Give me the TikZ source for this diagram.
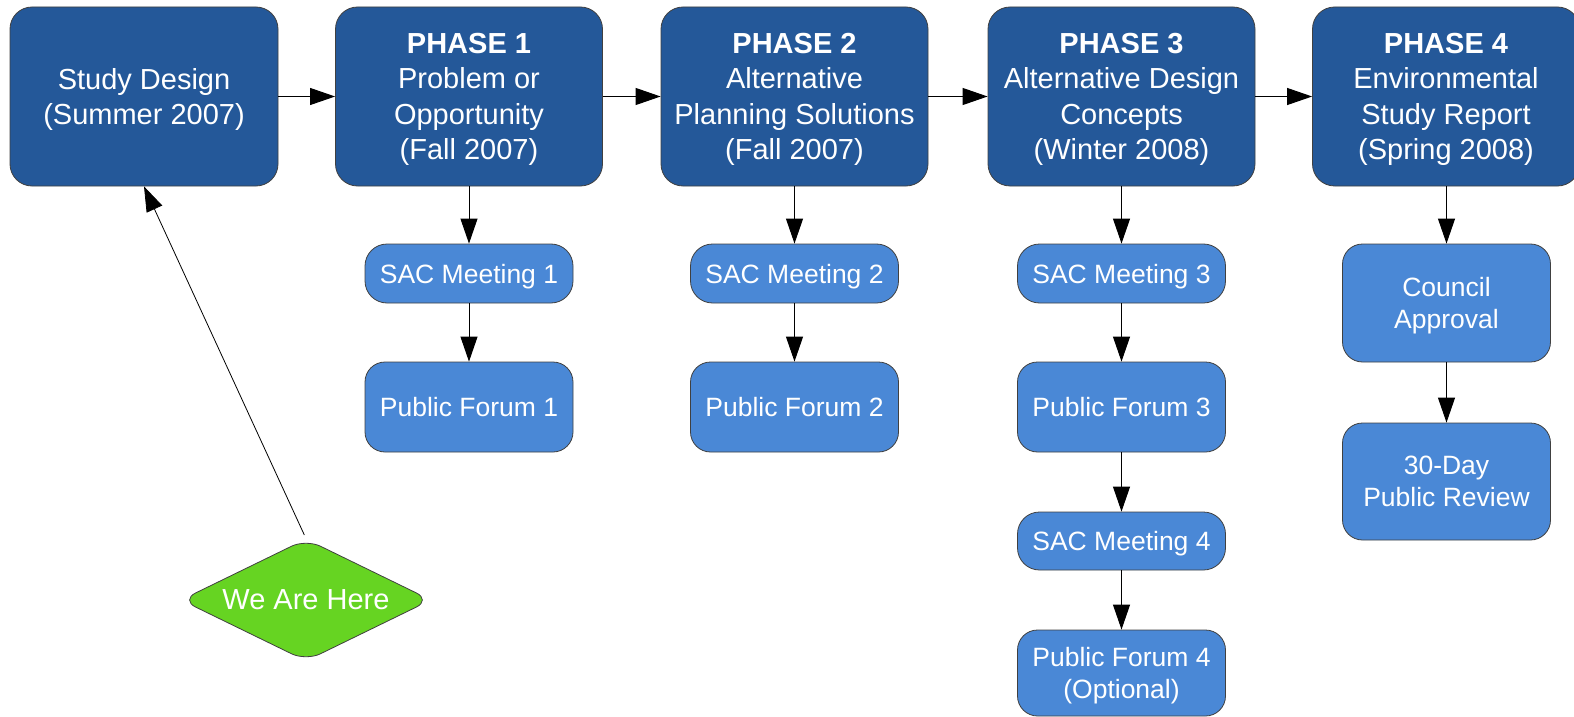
\documentclass[tikz,border=0pt]{standalone}
\usepackage{fontspec}
\setmainfont{Liberation Sans}
\usetikzlibrary{shapes.geometric,arrows.meta}
\definecolor{darkb}{HTML}{245899}
\definecolor{lightb}{HTML}{4A88D6}
\definecolor{wgreen}{HTML}{66D422}
\begin{document}
\begin{tikzpicture}[x=0.5pt,y=-0.5pt,
  phase/.style={draw=black!75, line width=0.4pt, fill=darkb, rounded corners=11pt, text=white, align=center,
    minimum width=133.5pt, minimum height=89.5pt, inner sep=0pt, text depth=0pt, font=\fontsize{14.5}{17.7}\selectfont},
  sub/.style={draw=black!75, line width=0.4pt, fill=lightb, rounded corners=11pt, text=white, align=center,
    minimum width=104pt, inner sep=0pt, text depth=0pt, font=\fontsize{13.25}{16}\selectfont},
  sac/.style={sub, minimum height=29.5pt},
  forum/.style={sub, minimum height=45pt, rounded corners=10pt},
  here/.style={diamond, draw=black!75, line width=0.4pt, fill=wgreen, rounded corners=8pt, aspect=2,
    minimum width=125pt, minimum height=61pt, inner sep=0pt, text depth=0pt, text=white, font=\fontsize{14.5}{17.7}\selectfont},
  arr/.style={-{Triangle[length=12.5pt,width=8.5pt]}, line width=0.5pt, black}]
\useasboundingbox (0,0) rectangle (1574,717);

\node[phase, minimum width=134pt] (sd) at (144,96.5) {Study Design\\(Summer 2007)};
\node[phase] (p1) at (469,96.5) {\textbf{PHASE 1}\\Problem or\\Opportunity\\(Fall 2007)};
\node[phase] (p2) at (794.5,96.5) {\textbf{PHASE 2}\\Alternative\\Planning Solutions\\(Fall 2007)};
\node[phase] (p3) at (1121.5,96.5) {\textbf{PHASE 3}\\Alternative Design\\Concepts\\(Winter 2008)};
\node[phase] (p4) at (1446,96.5) {\textbf{PHASE 4}\\Environmental\\Study Report\\(Spring 2008)};

\node[sac] (s1) at (469,273.5) {SAC Meeting 1};
\node[forum] (f1) at (469,407) {Public Forum 1};
\node[sac] (s2) at (794.5,273.5) {SAC Meeting 2};
\node[forum] (f2) at (794.5,407) {Public Forum 2};
\node[sac] (s3) at (1121.5,273.5) {SAC Meeting 3};
\node[forum] (f3) at (1121.5,407) {Public Forum 3};
\node[sac, minimum height=29pt] (s4) at (1121.5,541) {SAC Meeting 4};
\node[forum, minimum height=43pt] (f4) at (1121.5,673) {Public Forum 4\\(Optional)};
\node[sub, minimum height=59pt, rounded corners=10pt] (ca) at (1446.5,303) {Council\\Approval};
\node[sub, minimum height=58.5pt, rounded corners=10pt] (pr) at (1446.5,481.5) {30-Day\\Public Review};

\node[here] (wah) at (306,600) {We Are Here};

\draw[arr] (sd) -- (p1);
\draw[arr] (p1) -- (p2);
\draw[arr] (p2) -- (p3);
\draw[arr] (p3) -- (p4);
\draw[arr] (p1) -- (s1);
\draw[arr] (s1) -- (f1);
\draw[arr] (p2) -- (s2);
\draw[arr] (s2) -- (f2);
\draw[arr] (p3) -- (s3);
\draw[arr] (s3) -- (f3);
\draw[arr] (f3) -- (s4);
\draw[arr] (s4) -- (f4);
\draw[arr] (p4.south -| ca.north) -- (ca);
\draw[arr] (ca) -- (pr);
\draw[arr, line width=0.4pt, shorten <=2pt] (wah.north) -- (sd.south);
\end{tikzpicture}
\end{document}
